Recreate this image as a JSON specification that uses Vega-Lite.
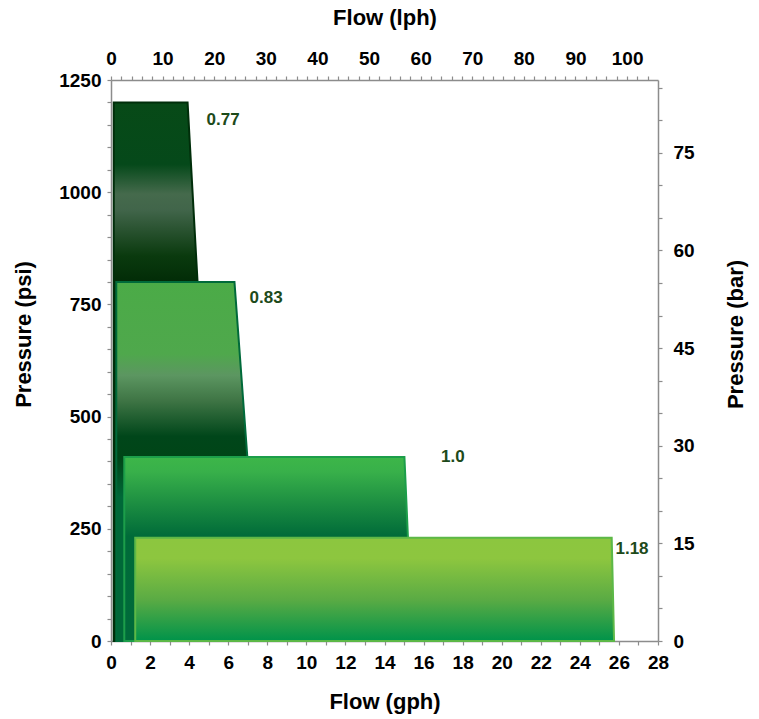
{
  "$schema": "https://vega.github.io/schema/vega-lite/v6.json",
  "width": 547,
  "height": 561,
  "autosize": {"type": "none"},
  "padding": {"left": 111, "top": 80, "right": 101, "bottom": 78},
  "background": "white",
  "view": {"stroke": null},
  "config": {
    "axis": {
      "grid": false,
      "domainColor": "#8c8c8c",
      "domainWidth": 1.5,
      "tickColor": "#8c8c8c",
      "tickWidth": 1.2,
      "tickSize": 4,
      "labelFont": "Liberation Sans",
      "labelFontSize": 19,
      "labelFontWeight": "bold",
      "labelColor": "#000000",
      "labelOverlap": false,
      "labelFlush": false,
      "titleFont": "Liberation Sans",
      "titleFontSize": 22,
      "titleFontWeight": "bold",
      "titleColor": "#000000",
      "titleAlign": "center",
      "titleBaseline": "middle"
    }
  },
  "datasets": {
    "s1": [{"p": 0, "xl": 0.14, "xr": 5.45}, {"p": 1200, "xl": 0.14, "xr": 3.92}],
    "s2": [{"p": 0, "xl": 0.27, "xr": 7.67}, {"p": 800, "xl": 0.27, "xr": 6.32}],
    "s3": [{"p": 0, "xl": 0.68, "xr": 15.43}, {"p": 410, "xl": 0.68, "xr": 15.02}],
    "s4": [{"p": 0, "xl": 1.24, "xr": 25.75}, {"p": 230, "xl": 1.24, "xr": 25.63}],
    "labels": [
      {"t": "0.77", "xr": 5.74, "p": 1160},
      {"t": "0.83", "xr": 7.94, "p": 764},
      {"t": "1.0", "xr": 17.5, "p": 410},
      {"t": "1.18", "xr": 26.67, "p": 204}
    ],
    "secondary": [{"lph": 0, "bar": 0}]
  },
  "layer": [
    {
      "encoding": {
        "x": {
          "field": "xr", "type": "quantitative",
          "scale": {"domain": [0, 28], "nice": false, "zero": false},
          "axis": {
            "orient": "bottom",
            "title": "Flow (gph)",
            "titleX": 273.5, "titleY": 60,
            "labelPadding": 8,
            "format": "d",
            "values": [0,0.5,1,1.5,2,2.5,3,3.5,4,4.5,5,5.5,6,6.5,7,7.5,8,8.5,9,9.5,10,10.5,11,11.5,12,12.5,13,13.5,14,14.5,15,15.5,16,16.5,17,17.5,18,18.5,19,19.5,20,20.5,21,21.5,22,22.5,23,23.5,24,24.5,25,25.5,26,26.5,27,27.5,28],
            "labelExpr": "datum.value % 2 === 0 ? format(datum.value, 'd') : ''"
          }
        },
        "y": {
          "field": "p", "type": "quantitative",
          "scale": {"domain": [0, 1250], "nice": false, "zero": false},
          "axis": {
            "orient": "left",
            "title": "Pressure (psi)",
            "titleX": -87.5, "titleY": 254, "titleAngle": -90,
            "labelPadding": 6,
            "values": [0,50,100,150,200,250,300,350,400,450,500,550,600,650,700,750,800,850,900,950,1000,1050,1100,1150,1200,1250],
            "labelExpr": "datum.value % 250 === 0 ? format(datum.value, 'd') : ''"
          }
        }
      },
      "layer": [
        {
          "data": {"name": "s1"},
          "mark": {
            "type": "area", "orient": "horizontal", "stroke": "#002e0a", "strokeWidth": 2,
            "fill": {"gradient": "linear", "x1": 0, "y1": 0, "x2": 0, "y2": 1, "stops": [
              {"offset": 0, "color": "#074a17"},
              {"offset": 0.115, "color": "#05491a"},
              {"offset": 0.17, "color": "#456a4c"},
              {"offset": 0.2, "color": "#41654a"},
              {"offset": 0.285, "color": "#0a3a0e"},
              {"offset": 0.333, "color": "#022c07"},
              {"offset": 1, "color": "#02380e"}
            ]}
          },
          "encoding": {"x2": {"field": "xl"}}
        },
        {
          "data": {"name": "s2"},
          "mark": {
            "type": "area", "orient": "horizontal", "stroke": "#006a3a", "strokeWidth": 2,
            "fill": {"gradient": "linear", "x1": 0, "y1": 0, "x2": 0, "y2": 1, "stops": [
              {"offset": 0, "color": "#4bab47"},
              {"offset": 0.2, "color": "#4fa84c"},
              {"offset": 0.26, "color": "#5c9661"},
              {"offset": 0.33, "color": "#3f7545"},
              {"offset": 0.43, "color": "#00461a"},
              {"offset": 0.49, "color": "#004517"},
              {"offset": 0.6, "color": "#006838"},
              {"offset": 1, "color": "#006838"}
            ]}
          },
          "encoding": {"x2": {"field": "xl"}}
        },
        {
          "data": {"name": "s3"},
          "mark": {
            "type": "area", "orient": "horizontal", "stroke": "#1c9e4a", "strokeWidth": 2,
            "fill": {"gradient": "linear", "x1": 0, "y1": 0, "x2": 0, "y2": 1, "stops": [
              {"offset": 0, "color": "#3db649"},
              {"offset": 0.08, "color": "#38b04a"},
              {"offset": 0.43, "color": "#006b39"},
              {"offset": 1, "color": "#006a3a"}
            ]}
          },
          "encoding": {"x2": {"field": "xl"}}
        },
        {
          "data": {"name": "s4"},
          "mark": {
            "type": "area", "orient": "horizontal", "stroke": "#5cb847", "strokeWidth": 2,
            "fill": {"gradient": "linear", "x1": 0, "y1": 0, "x2": 0, "y2": 1, "stops": [
              {"offset": 0, "color": "#8cc63f"},
              {"offset": 0.2, "color": "#8dc63f"},
              {"offset": 0.6, "color": "#5aab44"},
              {"offset": 1, "color": "#00934a"}
            ]}
          },
          "encoding": {"x2": {"field": "xl"}}
        },
        {
          "data": {"name": "labels"},
          "mark": {"type": "text", "font": "Liberation Sans", "fontSize": 17, "fontWeight": "bold", "color": "#1d4a1a", "align": "center", "baseline": "middle"},
          "encoding": {"text": {"field": "t"}}
        }
      ]
    },
    {
      "data": {"name": "secondary"},
      "mark": {"type": "point", "opacity": 0},
      "encoding": {
        "x": {
          "field": "lph", "type": "quantitative",
          "scale": {"domain": [0, 105.99], "nice": false, "zero": false},
          "axis": {
            "orient": "top",
            "title": "Flow (lph)",
            "titleX": 273.5, "titleY": -63,
            "labelPadding": 8,
            "values": [0,2,4,6,8,10,12,14,16,18,20,22,24,26,28,30,32,34,36,38,40,42,44,46,48,50,52,54,56,58,60,62,64,66,68,70,72,74,76,78,80,82,84,86,88,90,92,94,96,98,100,102,104],
            "labelExpr": "datum.value % 10 === 0 ? format(datum.value, 'd') : ''"
          }
        },
        "y": {
          "field": "bar", "type": "quantitative",
          "scale": {"domain": [0, 86.18], "nice": false, "zero": false},
          "axis": {
            "orient": "right",
            "title": "Pressure (bar)",
            "titleX": 77, "titleY": 254, "titleAngle": -90,
            "labelPadding": 11,
            "values": [0,5,10,15,20,25,30,35,40,45,50,55,60,65,70,75,80,85],
            "labelExpr": "datum.value % 15 === 0 ? format(datum.value, 'd') : ''"
          }
        }
      }
    }
  ],
  "resolve": {"scale": {"x": "independent", "y": "independent"}}
}
